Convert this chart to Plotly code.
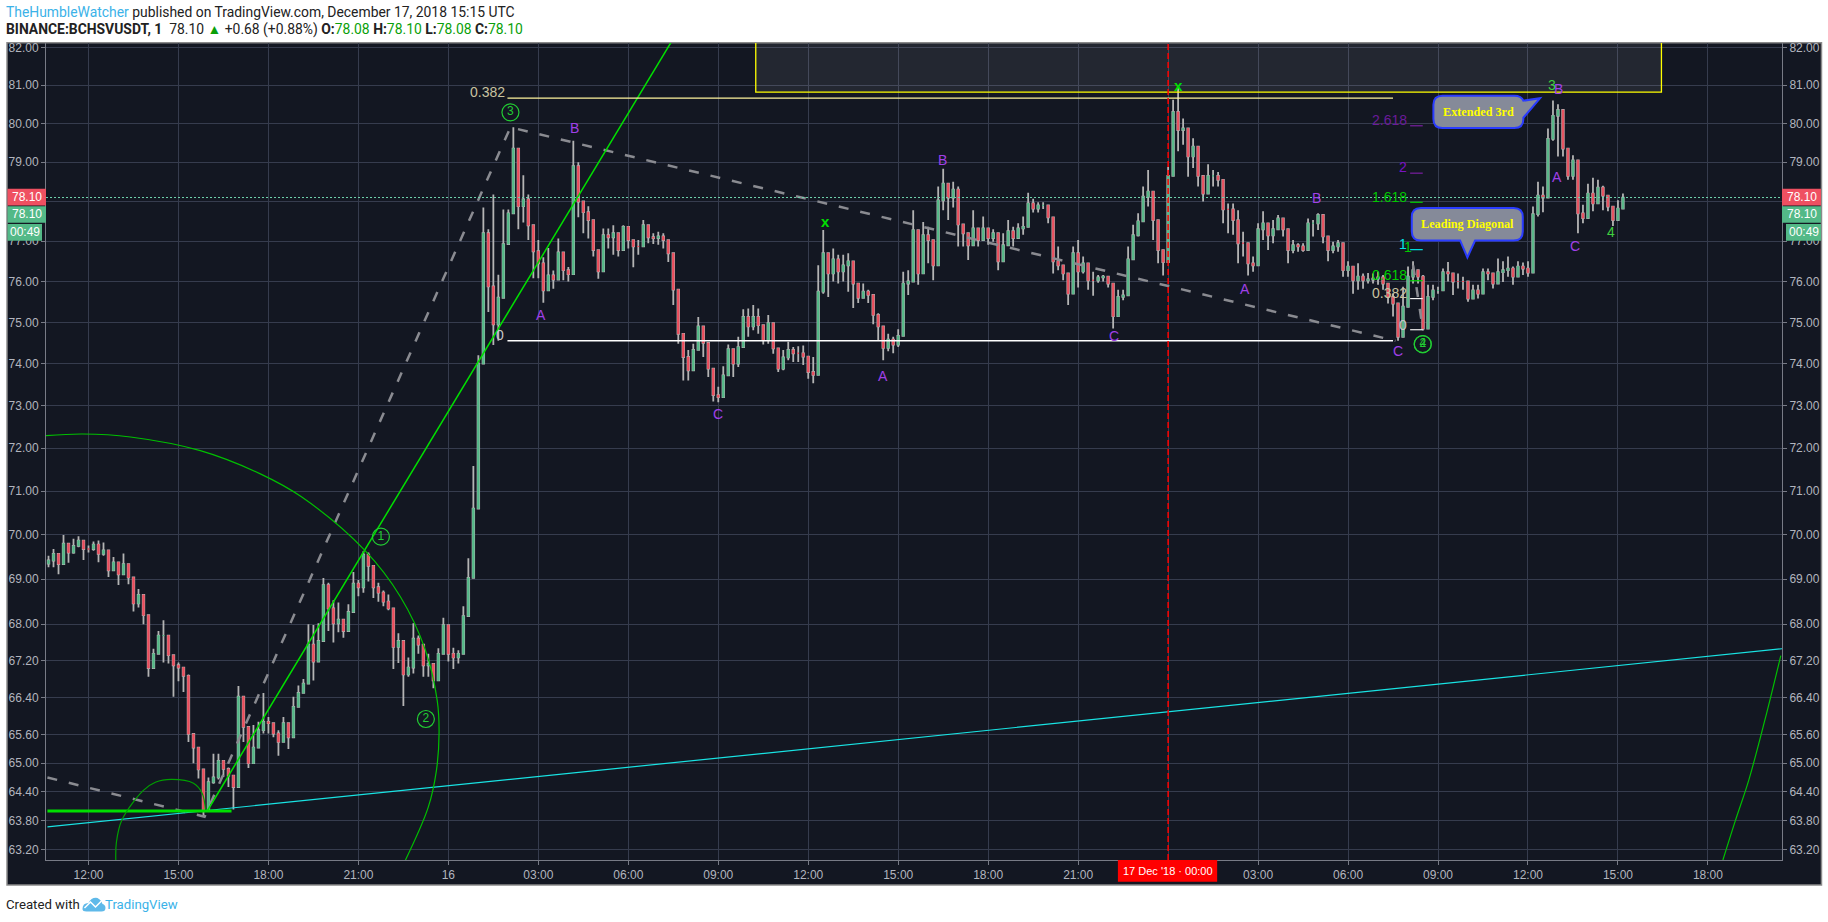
import math
from datetime import datetime, timedelta
import pandas as pd
import plotly.graph_objects as go

W, H = 1828, 922
L, R, T, B = 45.5, 46, 43.3, 62

# ---- candle data: 10 minute bars, starting 15 Dec 10:40 ----
close_prices = [
69.42,69.57,
69.34,69.80,69.60,69.75,69.87,69.68, 69.68,69.78,69.57,69.65,69.20,69.38,
69.11,69.34,69.04,68.46,68.65,68.20, 67.04,67.35,67.75,67.75,67.32,67.10,
67.05,66.87,65.62,65.33,64.87,64.03, 64.60,64.70,65.05,64.88,64.74,64.50,
66.42,65.77,65.00,65.33,65.70,65.88, 65.85,65.63,65.45,65.85,65.55,66.20,
66.50,66.70,67.55,67.18,67.63,68.87, 68.35,68.02,68.10,67.85,68.27,68.90,
68.82,69.55,69.30,68.82,68.70,68.50, 68.35,67.50,67.63,66.90,67.05,67.68,
67.55,67.10,67.13,66.77,67.35,67.98,
67.35,67.27,67.35,68.18,69.03,70.60, 74.00,77.20,75.88,74.95,75.60,76.93,
77.70,79.35,77.88,78.05,77.40,76.75, 76.45,75.78,76.15,76.05,76.72,76.28,
76.18,78.90,78.00,77.73,77.53,76.78, 76.25,77.15,77.10,77.20,76.78,77.36,
77.03,76.87,76.87,77.40,77.10,77.08, 77.12,77.03,76.70,75.80,74.72,74.16,
73.84,74.33,74.90,74.50,73.88,73.25, 73.20,73.72,74.35,74.00,74.40,75.13,
74.90,75.13,74.93,74.57,74.98,74.37, 73.88,74.15,74.33,74.25,74.25,74.17,
73.80,73.73,75.75,76.70,76.20,76.55, 76.25,76.40,76.50,75.95,75.60,75.75,
75.67,75.18,74.90,74.38,74.58,74.46, 74.67,75.95,76.00,77.28,76.20,77.15,
77.03,76.40,78.03,78.45,78.10,78.30, 77.42,77.20,76.90,77.32,77.03,77.32,
77.08,77.20,76.50,76.90,77.25,77.08, 77.32,77.36,77.95,77.82,77.90,77.90,
77.60,76.50,76.40,76.20,75.70,76.70, 76.25,76.45,76.03,76.03,76.10,76.12,
75.95,75.15,75.62,75.66,76.55,77.15, 77.50,78.12,78.25,77.53,76.78,76.48,
78.65,80.30,79.83,79.87,79.15,79.40, 78.65,78.20,78.65,78.65,78.55,77.80,
77.80,77.53,76.95,76.95,76.45,76.40, 77.30,77.45,77.15,77.30,77.57,77.30,
76.78,76.90,76.87,76.78,77.45,77.45, 77.66,77.12,76.78,76.87,76.95,76.28,
76.37,76.03,76.12,76.03,76.05,76.07, 76.10,75.95,75.62,75.46,74.65,75.38,
76.12,76.28,76.12,74.85,75.62,75.78, 75.78,76.23,76.20,76.00,76.00,76.00,
75.58,75.78,75.70,76.23,76.20,75.95, 76.23,76.28,76.32,76.12,76.37,76.32,
76.22,77.68,78.15,78.10,79.60,80.20, 80.35,79.35,78.65,79.05,77.70,77.58,
78.20,77.95,78.35,78.15,77.87,77.53, 77.82,78.10]

high_prices = [
69.53,69.68,
69.45,70.00,69.80,69.91,69.97,69.87, 69.76,69.85,69.87,69.83,69.38,69.50,
69.30,69.58,69.23,68.74,68.78,68.30, 68.00,67.46,67.85,68.09,67.64,67.21,
67.16,67.01,66.90,65.62,65.22,64.43, 64.70,65.20,65.20,65.01,64.91,64.70,
66.65,65.98,65.70,65.81,65.88,66.50, 65.98,65.78,65.70,65.98,65.73,66.42,
66.66,66.80,68.00,67.98,68.02,69.03, 68.92,68.53,68.48,68.10,68.44,69.16,
68.98,69.63,69.60,69.08,68.92,68.75, 68.66,68.22,67.80,67.50,67.27,68.02,
67.75,67.35,67.35,67.00,67.47,68.14,
67.80,67.48,67.43,68.40,69.47,71.58, 74.20,77.85,77.30,78.18,76.17,77.80,
77.80,79.90,78.97,78.67,78.18,77.40, 77.03,76.60,76.83,76.27,77.07,76.73,
76.36,79.55,79.00,77.91,77.88,77.32, 76.66,77.32,77.32,77.40,77.03,77.40,
77.24,76.99,77.03,77.53,77.26,77.20, 77.24,77.20,76.91,76.36,75.46,74.65,
74.33,74.48,75.13,74.65,74.24,73.60, 73.45,73.94,74.46,74.16,74.65,75.32,
75.34,75.42,75.34,74.93,75.18,74.81, 74.33,74.33,74.53,74.40,74.42,74.44,
74.08,74.16,76.40,77.28,76.66,76.82, 76.66,76.66,76.70,76.36,75.88,75.95,
75.80,75.60,75.22,74.62,74.72,74.65, 74.83,76.24,76.28,77.78,76.95,77.48,
77.36,76.87,78.38,78.83,78.38,78.50, 78.38,77.41,77.20,77.78,77.32,77.62,
77.32,77.30,76.95,77.20,77.53,77.36, 77.45,77.62,78.22,78.07,77.98,77.98,
77.85,77.28,76.87,76.40,76.03,76.87, 77.03,76.62,76.40,76.24,76.16,76.16,
76.07,75.85,75.80,75.80,76.87,77.41, 77.70,78.38,78.80,78.12,77.45,76.78,
78.88,80.62,80.95,80.13,79.83,79.62, 78.88,78.65,78.95,78.80,78.75,78.45,
77.95,77.95,77.78,77.24,76.87,76.62, 77.45,77.75,77.36,77.53,77.66,77.49,
77.12,77.03,76.95,76.95,77.57,77.53, 77.70,77.36,77.12,76.99,77.03,76.70,
76.50,76.37,76.45,76.20,76.21,76.20, 76.24,76.16,75.95,75.70,75.35,75.87,
76.37,76.50,76.24,76.16,75.92,75.92, 75.87,76.32,76.48,76.20,76.20,76.12,
75.87,75.92,75.92,76.32,76.32,76.12, 76.57,76.50,76.62,76.37,76.50,76.47,
76.50,77.87,78.50,78.38,79.87,80.60, 80.50,80.35,79.00,79.18,78.45,77.92,
78.45,78.60,78.55,78.40,78.15,77.83, 78.03,78.20]

low_prices = [
69.27,69.27,
69.11,69.50,69.37,69.57,69.72,69.43, 69.60,69.64,69.38,69.53,69.05,69.19,
68.87,69.15,68.89,68.28,68.37,68.00, 66.85,67.12,67.60,67.16,67.14,66.42,
66.75,66.52,65.45,65.00,64.68,63.88, 64.22,64.57,64.66,64.71,64.50,64.03,
65.46,65.45,64.90,65.00,65.45,65.63, 65.63,65.55,65.16,65.55,65.30,65.95,
66.32,66.55,67.05,66.77,67.20,68.18, 67.85,67.60,67.82,67.70,67.83,68.44,
68.62,68.70,68.95,68.58,68.50,68.40, 68.31,67.02,67.15,66.22,66.85,66.92,
67.35,66.85,66.85,66.60,67.02,67.58,
67.18,67.02,67.14,67.63,68.52,70.50, 72.00,75.30,75.25,74.45,74.55,76.08,
77.13,77.90,77.30,77.47,77.03,76.08, 76.08,75.48,75.88,75.82,76.17,76.03,
76.00,77.90,77.60,77.20,77.07,76.62, 76.07,76.66,76.82,76.66,76.62,77.03,
76.82,76.35,76.66,77.12,76.95,76.93, 76.91,76.82,76.48,75.42,74.48,73.60,
73.60,73.88,74.35,74.16,73.68,73.10, 73.08,73.60,73.84,73.68,73.92,74.65,
74.65,74.81,74.72,74.46,74.48,74.24, 73.80,73.84,74.08,74.04,74.04,73.97,
73.64,73.53,74.48,75.70,75.62,76.00, 75.95,76.00,75.75,75.35,75.47,75.60,
75.47,74.95,74.55,74.08,74.30,74.25, 74.40,75.15,75.67,76.24,75.92,76.70,
76.45,76.03,77.24,77.78,77.53,77.85, 76.87,76.87,76.53,76.95,76.87,77.03,
76.91,76.99,76.28,76.66,76.95,76.87, 77.08,77.16,77.75,77.72,77.72,77.81,
77.45,76.20,76.28,76.03,75.42,75.70, 75.85,76.20,75.80,75.65,75.97,76.00,
75.85,74.85,75.38,75.54,76.00,77.03, 77.12,77.83,77.87,77.03,76.45,76.15,
76.50,79.32,79.28,79.45,78.63,78.85, 78.38,78.00,78.20,78.38,78.38,77.45,
77.20,77.16,76.45,76.62,76.15,76.24, 76.70,77.03,76.78,76.95,77.28,77.12,
76.45,76.70,76.74,76.74,76.95,77.12, 77.28,76.95,76.50,76.70,76.74,76.12,
76.12,75.70,75.80,75.82,75.95,75.95, 75.92,75.80,75.46,75.14,74.55,74.82,
75.70,75.95,75.95,74.80,75.46,75.54, 75.70,76.00,76.00,75.67,75.83,75.80,
75.50,75.62,75.58,75.80,76.03,75.83, 76.12,75.99,76.12,75.92,76.16,76.16,
76.12,76.20,77.62,77.73,78.88,79.55, 79.15,79.15,78.55,78.55,77.20,77.45,
77.70,77.75,77.95,77.78,77.75,77.38, 77.66,78.03]

first_open = 69.35

# ---- axis ticks ----
price_ticks = [82, 81, 80, 79, 78, 77, 76, 75, 74, 73, 72, 71, 70, 69, 68, 67.2, 66.4, 65.6, 65, 64.4, 63.8, 63.2]
price_tick_text = ["82.00", "81.00", "80.00", "79.00", "", "77.00", "76.00", "75.00", "74.00", "73.00", "72.00",
                   "71.00", "70.00", "69.00", "68.00", "67.20", "66.40", "65.60", "65.00", "64.40", "63.80", "63.20"]
time_ticks = ["2018-12-15 12:00", "2018-12-15 15:00", "2018-12-15 18:00", "2018-12-15 21:00",
              "2018-12-16 00:00", "2018-12-16 03:00", "2018-12-16 06:00", "2018-12-16 09:00",
              "2018-12-16 12:00", "2018-12-16 15:00", "2018-12-16 18:00", "2018-12-16 21:00",
              "2018-12-17 00:00", "2018-12-17 03:00", "2018-12-17 06:00", "2018-12-17 09:00",
              "2018-12-17 12:00", "2018-12-17 15:00", "2018-12-17 18:00"]
time_tick_text = ["12:00", "15:00", "18:00", "21:00", "16", "03:00", "06:00", "09:00", "12:00", "15:00",
                  "18:00", "21:00", "", "03:00", "06:00", "09:00", "12:00", "15:00", "18:00"]
PRICE_TOP, PRICE_BOTTOM = 82.117, 62.99
TIME_LEFT, TIME_RIGHT = -13.417, 44.47   # hours from 16 Dec 00:00

# ---- drawings: hours from 16 Dec 00:00, prices ----
dash_hours = [-13.37, -8.13, 2.07, 31.58]
dash_prices = [64.70, 63.88, 79.90, 74.55]
dash2_hours = [32.17, 32.5]
dash2_prices = [76.40, 74.80]
green_hours = [-8.04, 7.55]
green_prices = [64.0, 82.3]
support_hours = [-13.37, -7.23]
support_prices = [64.0, 64.0]
cyan_hours = [-13.37, 44.47]
cyan_prices = [63.67, 67.46]
big_arc_hours = [-13.43, -12.2, -10.6, -8.27, -6.27, -4.9, -2.8, -1.6, -0.77, -0.37, -0.31, -0.4, -0.67, -1.43]
big_arc_prices = [72.29, 72.33, 72.26, 71.94, 71.40, 70.87, 69.66, 68.61, 67.44, 66.33, 65.64, 64.84, 64.08, 62.99]
small_arc_hours = [-11.09, -11.07, -10.89, -10.17, -9.77, -9.24, -8.5, -8.21, -8.1]
small_arc_prices = [62.99, 63.35, 63.81, 64.43, 64.60, 64.66, 64.58, 64.37, 64.02]
right_arc_hours = [42.5, 42.92, 43.36, 43.9, 44.43]
right_arc_prices = [62.99, 63.81, 64.64, 65.92, 67.31]
zone_hours = [10.25, 10.25, 40.45, 40.45]
zone_prices = [83.0, 80.82, 80.82, 83.0]
fib_big_hours = [1.97, 31.5]
fib_big_levels = [80.66, 74.55]
fib_small_hours = [32.07, 32.49]
fib_small_levels = [79.94, 78.72, 77.98, 76.79, 76.02, 75.58, 74.82]
fib_small_colors = ["#7b1fa2", "#7b1fa2", "#00d000", "#00e5e5", "#00d000", "#f0f0f0", "#f0f0f0"]
last_price = 78.10

wave_text = ["A", "B", "C", "A", "B", "C", "A", "B", "C", "A", "B", "C"]
wave_hours = [3.09, 4.2, 8.99, 14.49, 16.49, 22.2, 26.57, 28.96, 31.66, 36.96, 37.02, 37.57]
wave_prices = [75.18, 79.87, 72.81, 73.7, 79.05, 74.66, 75.82, 78.08, 74.3, 78.62, 80.9, 76.87]
circle_text = ["3", "1", "2", "2", "4"]
circle_hours = [2.07, -2.25, -0.75, 32.49, 32.49]
circle_prices = [80.29, 69.96, 65.94, 74.47, 74.47]
green_text = ["3", "4"]
green_text_hours = [36.79, 38.76]
green_text_prices = [81.0, 77.22]
x_mark_hours = [12.59, 24.34]
x_mark_prices = [77.5, 81.0]
fib_labels = [("0.382", 1.97, 80.82, "#c9c3a0", "right"), ("0", 1.73, 74.68, "#c8c8c8", "center"),
              ("2.618", 32.04, 80.09, "#6a1b9a", "right"), ("2", 32.04, 78.87, "#7a12c4", "right"),
              ("1.618", 32.04, 78.12, "#00c800", "right"), ("1", 31.82, 76.92, "#00e5e5", "center"),
              ("1", 32.0, 76.86, "#00c800", "center"), ("0.618", 32.04, 76.17, "#00d000", "right"),
              ("0.382", 32.04, 75.72, "#c9c3a0", "right"), ("0", 31.82, 74.94, "#c8c8c8", "center")]


def when(hours):
    return datetime(2018, 12, 16) + timedelta(hours=hours)


def whens(hours):
    return [when(h) for h in hours]


def xp(px):
    return (px - L) / (W - L - R)


def yp(py):
    return 1 - (py - T) / (H - T - B)


times = pd.date_range("2018-12-15 10:40", periods=len(close_prices), freq="10min")
open_prices = [first_open] + close_prices[:-1]
wick_high = [max(h, o, c) for h, o, c in zip(high_prices, open_prices, close_prices)]
wick_low = [min(l, o, c) for l, o, c in zip(low_prices, open_prices, close_prices)]
body_high = [max(o, c) for o, c in zip(open_prices, close_prices)]
body_low = [min(o, c) for o, c in zip(open_prices, close_prices)]

UP, DOWN, WICK = "#53b987", "#eb4d5c", "#b4b4b4"
BG, GRID, AXIS, LABEL = "#131722", "#363c4e", "#787b86", "#b2b5be"
LIME, ARC = "#00e000", "#00c000"
PURPLE = "#a040e8"
SANS = "Liberation Sans"

fig = go.Figure()


def line(hours, prices, color, width=1, dash=None, shape=None, yaxis="y"):
    fig.add_trace(go.Scatter(x=whens(hours), y=prices, mode="lines", hoverinfo="skip", yaxis=yaxis,
                             line=dict(color=color, width=width, dash=dash, shape=shape)))


# zone
fig.add_trace(go.Scatter(x=whens(zone_hours), y=zone_prices, mode="lines", fill="toself",
                         fillcolor="rgba(255,255,255,0.07)", hoverinfo="skip",
                         line=dict(color="#ffff00", width=1.3)))

# candles: grey wick underlay, coloured bodies
fig.add_trace(go.Candlestick(x=times, open=open_prices, high=wick_high, low=wick_low, close=close_prices,
                             whiskerwidth=0, hoverinfo="skip",
                             increasing=dict(line=dict(color=WICK, width=1.8), fillcolor=WICK),
                             decreasing=dict(line=dict(color=WICK, width=1.8), fillcolor=WICK)))
fig.add_trace(go.Candlestick(x=times, open=open_prices, high=body_high, low=body_low, close=close_prices,
                             whiskerwidth=0, hoverinfo="skip",
                             increasing=dict(line=dict(color=UP, width=0.8), fillcolor=UP),
                             decreasing=dict(line=dict(color=DOWN, width=0.8), fillcolor=DOWN)))

# drawings
line([TIME_LEFT, TIME_RIGHT], [last_price, last_price], "#6fd3ad", 1, "2px,2px", yaxis="y2")
line(dash_hours, dash_prices, "#8a8b91", 2.5, "10px,12px")
line(dash2_hours, dash2_prices, "#8a8b91", 2.5, "10px,12px")
line(cyan_hours, cyan_prices, "#19e3e3", 1.2)
line(support_hours, support_prices, LIME, 3)
line(green_hours, green_prices, LIME, 1.5)
line(big_arc_hours, big_arc_prices, ARC, 1.2, shape="spline")
line(small_arc_hours, small_arc_prices, "#00a000", 1.2, shape="spline")
line(right_arc_hours, right_arc_prices, ARC, 1.2, shape="spline")
line(fib_big_hours, [fib_big_levels[0]] * 2, "#fff59d", 1.3)
line(fib_big_hours, [fib_big_levels[1]] * 2, "#ffffff", 1.5)
for level, color in zip(fib_small_levels, fib_small_colors):
    line(fib_small_hours, [level, level], color, 1.2)
line([24, 24], [PRICE_BOTTOM, PRICE_TOP], "#ff0000", 1.5, "6px,3px")

# circled wave numbers
fig.add_trace(go.Scatter(x=whens(circle_hours), y=circle_prices, mode="markers+text", text=circle_text,
                         textposition="middle center", hoverinfo="skip",
                         textfont=dict(family=SANS, size=12, color="#22cc33"),
                         marker=dict(symbol="circle-open", size=17, color="#22cc33", line=dict(width=1.2))))

fig.update_layout(
    width=W, height=H, autosize=False, showlegend=False, hovermode=False, dragmode=False,
    paper_bgcolor="#ffffff", plot_bgcolor=BG,
    margin=dict(l=L, r=R, t=T, b=B, pad=0, autoexpand=False),
    boxgap=0.55,
    font=dict(family=SANS, size=11, color=LABEL),
    xaxis=dict(type="date", range=[when(TIME_LEFT), when(TIME_RIGHT)], tickmode="array", tickvals=time_ticks,
               ticktext=time_tick_text, showgrid=True, gridcolor=GRID, gridwidth=1, zeroline=False,
               showline=True, linecolor=AXIS, linewidth=1, ticks="outside", ticklen=4, tickcolor=AXIS,
               tickfont=dict(size=12, color=LABEL), rangeslider=dict(visible=False)),
    yaxis=dict(type="log", range=[math.log10(PRICE_BOTTOM), math.log10(PRICE_TOP)], tickmode="array",
               tickvals=price_ticks, ticktext=price_tick_text, showgrid=True, gridcolor=GRID,
               gridwidth=1, zeroline=False, showline=True, linecolor=AXIS, linewidth=1, ticks="outside",
               ticklen=4, tickcolor=AXIS, side="left", tickfont=dict(size=12, color=LABEL)),
    yaxis2=dict(type="log", range=[math.log10(PRICE_BOTTOM), math.log10(PRICE_TOP)], tickmode="array",
                tickvals=price_ticks, ticktext=price_tick_text, showgrid=False, zeroline=False,
                showline=True, linecolor=AXIS, linewidth=1, ticks="outside", ticklen=4, tickcolor=AXIS,
                side="right", overlaying="y", anchor="x", tickfont=dict(size=12, color=LABEL)),
)

shapes = []


def box(x0, y0, x1, y1, fill, layer="above", edge=None, w=0):
    shapes.append(dict(type="rect", xref="paper", yref="paper", x0=xp(x0), x1=xp(x1), y0=yp(y0), y1=yp(y1),
                       fillcolor=fill, layer=layer, line=dict(color=edge or fill, width=w)))


def path(points):
    out = []
    for cmd in points:
        out.append(cmd[0] + " " + " ".join(f"{xp(cmd[i]):.5f},{yp(cmd[i + 1]):.5f}"
                                           for i in range(1, len(cmd), 2)))
    return " ".join(out) + " Z"


def bubble(x0, y0, x1, y1, tail, r=9):
    cmds = [("M", x0 + r, y0)]
    if tail["side"] == "top":
        cmds += [("L", x1 - r - 0, y0), ("Q", x1 - 2, y0, x1, y0 + 5)]
        cmds += [("L", tail["tip"][0], tail["tip"][1]), ("L", x1, y0 + 22)]
        cmds += [("L", x1, y1 - r), ("Q", x1, y1, x1 - r, y1)]
    else:
        cmds += [("L", x1 - r, y0), ("Q", x1, y0, x1, y0 + r), ("L", x1, y1 - r), ("Q", x1, y1, x1 - r, y1)]
        cmds += [("L", tail["base"][1], y1), ("L", tail["tip"][0], tail["tip"][1]), ("L", tail["base"][0], y1)]
    cmds += [("L", x0 + r, y1), ("Q", x0, y1, x0, y1 - r), ("L", x0, y0 + r), ("Q", x0, y0, x0 + r, y0)]
    shapes.append(dict(type="path", xref="paper", yref="paper", path=path(cmds), fillcolor="#858a99",
                       layer="above", line=dict(color="#2a3cff", width=2)))


# dark page frame
box(6.5, 43, 1821.5, 885, BG, layer="below", edge="#8a8a8a", w=1.5)
# price badges, both sides
for x0, x1, tx0 in [(7, 45.5, 7), (1782, 1821, 1786)]:
    box(x0, 189, x1, 205.7, "#ef5061")
    box(x0, 206.5, x1, 223, "#53b987")
    box(tx0, 224.3, (41.5 if x0 == 7 else x1), 241, "#53b987")
box(1117.7, 860, 1217, 881.7, "#ff0000")
bubble(1433.3, 96, 1523.3, 128.3, dict(side="top", tip=(1540, 98.5)))
bubble(1411.7, 208.3, 1522.7, 240.7, dict(side="bottom", tip=(1467.3, 257.7), base=(1460, 1475)))
# TradingView logo
shapes.append(dict(type="path", xref="paper", yref="paper", fillcolor="#5fb9e9", layer="above", line=dict(width=0),
                   path=path([("M", 82, 909), ("Q", 82, 903, 88, 903), ("Q", 91, 897, 97, 898), ("Q", 101, 900, 102, 904),
                              ("Q", 105, 905, 105, 908), ("Q", 105, 911.5, 101, 911.5), ("L", 86, 911.5),
                              ("Q", 82, 911.5, 82, 909)])))
shapes.append(dict(type="path", xref="paper", yref="paper", layer="above", line=dict(color="#ffffff", width=1.5),
                   path=f"M {xp(84):.5f},{yp(908):.5f} L {xp(90):.5f},{yp(902):.5f} L {xp(95):.5f},{yp(907):.5f} "
                        f"L {xp(101):.5f},{yp(901):.5f}"))
fig.update_layout(shapes=shapes)


def page_text(px, py, text, size=11, color="#ffffff", family=SANS, anchor="center"):
    fig.add_annotation(xref="paper", yref="paper", x=xp(px), y=yp(py), text=text, showarrow=False, xanchor=anchor,
                       yanchor="middle", font=dict(family=family, size=size, color=color), borderpad=0, borderwidth=0)


def data_text(hours, price, text, color, size=14, anchor="center", family=SANS):
    fig.add_annotation(x=when(hours), y=math.log10(price), text=text, showarrow=False, xanchor=anchor, yanchor="middle",
                       font=dict(family=family, size=size, color=color))


for t, h, p in zip(wave_text, wave_hours, wave_prices):
    data_text(h, p, t, PURPLE)
for t, h, p in zip(green_text, green_text_hours, green_text_prices):
    data_text(h, p, t, "#3fcf3f")
for h, p in zip(x_mark_hours, x_mark_prices):
    data_text(h, p, "<b>x</b>", "#00e000", size=15)
for t, h, p, c, a in fib_labels:
    data_text(h, p, t, c, size=14, anchor=a)

for cx, tx in [(26, 24), (1802, 1804)]:
    page_text(cx, 197.5, "78.10", 12)
    page_text(cx, 214.5, "78.10", 12)
    page_text(tx, 232.5, "00:49", 12)
page_text(1167.5, 871, "17 Dec '18 · 00:00", 11)
page_text(1478, 112, "<b>Extended 3rd</b>", 12.2, "#ffff00", "Liberation Serif")
page_text(1467, 224.5, "<b>Leading Diagonal</b>", 12.2, "#ffff00", "Liberation Serif")

HEAD = "Roboto"
page_text(5, 12.5, '<span style="color:#3bb2e8">TheHumbleWatcher</span> published on TradingView.com, '
                   'December 17, 2018 15:15 UTC', 13.9, "#222222", HEAD, "left")
G = "#0a9f0a"
page_text(5, 29.5, f'<b>BINANCE:BCHSVUSDT, 1</b>  78.10 <span style="color:#0a9f0a">▲</span> +0.68 (+0.88%) '
                   f'<b>O:</b><span style="color:{G}">78.08</span> <b>H:</b><span style="color:{G}">78.10</span> '
                   f'<b>L:</b><span style="color:{G}">78.08</span> <b>C:</b><span style="color:{G}">78.10</span>',
          13.9, "#222222", HEAD, "left")
page_text(5, 904, "Created with", 13.2, "#222222", HEAD, "left")
page_text(105, 904, "TradingView", 13.2, "#3bb2e8", HEAD, "left")

fig.write_html("out.html", config=dict(displayModeBar=False),
               post_script="document.body.style.margin='0';document.body.style.overflow='hidden';")
